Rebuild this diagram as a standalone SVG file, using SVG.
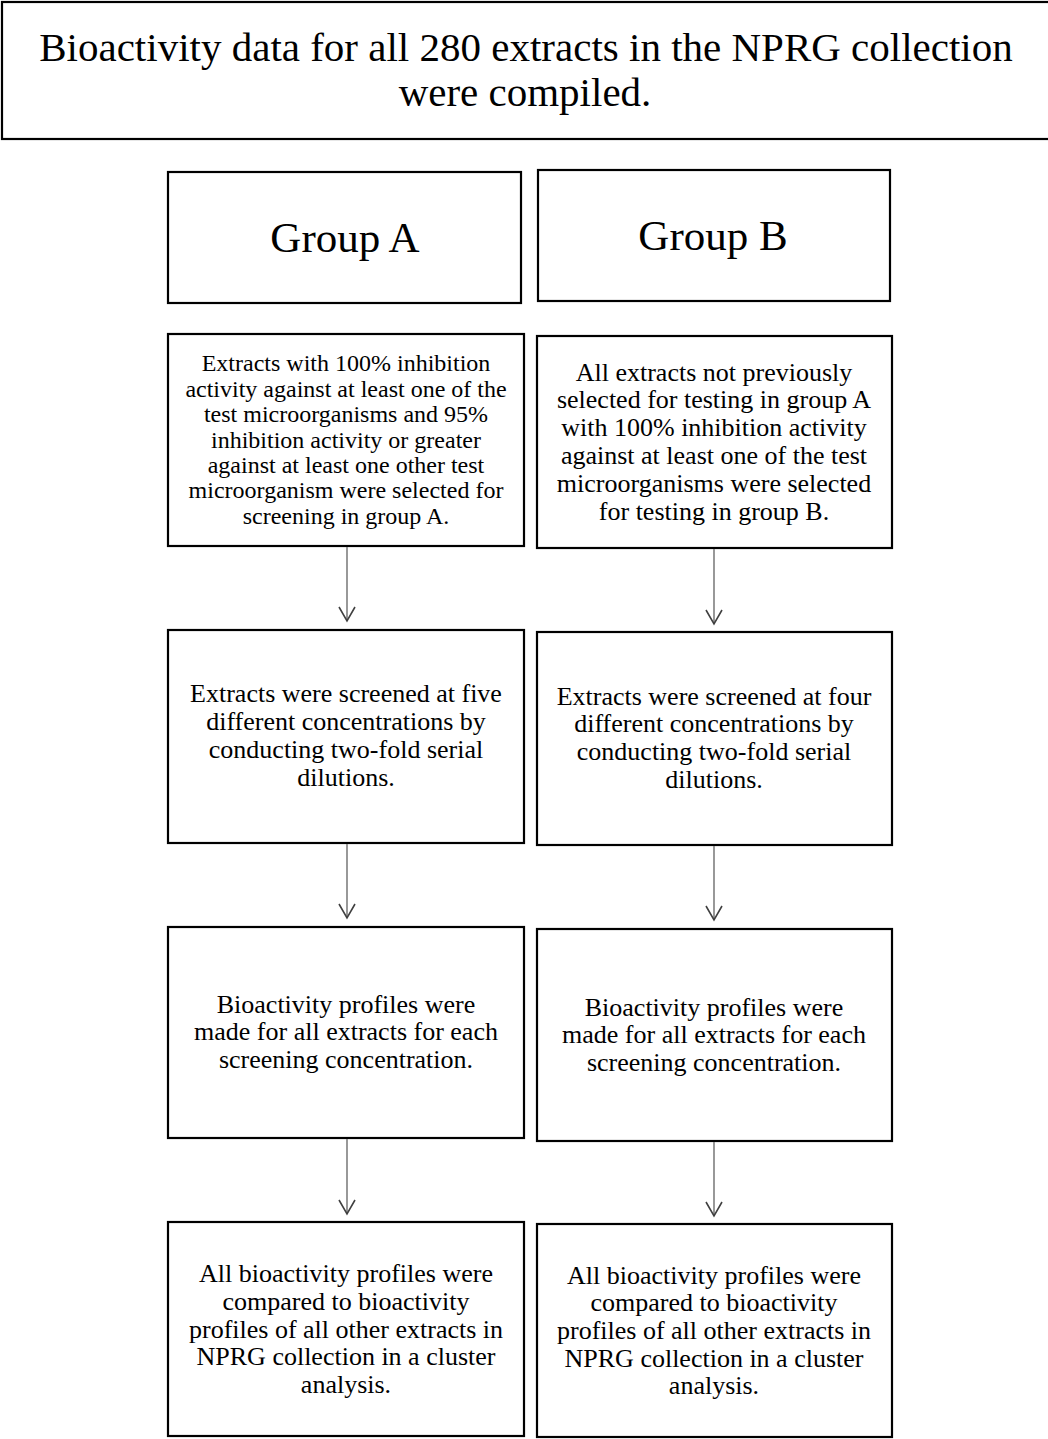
<svg xmlns="http://www.w3.org/2000/svg" width="1048" height="1439" viewBox="0 0 1048 1439">
<style>
.box{fill:#fff;stroke:#000;stroke-width:2.2}
.t{font-family:"Liberation Serif","Times New Roman",serif;fill:#000;text-anchor:middle}
.title{font-size:41px}
.grp{font-size:43px}
.s{font-size:26px}
.s1{font-size:24px}
.conn{stroke:#7f7f7f;stroke-width:1.6;fill:none}
.head{stroke:#404040;stroke-width:1.6;fill:none}
</style>
<defs>
<marker id="arr" markerWidth="20" markerHeight="20" refX="10" refY="14" markerUnits="userSpaceOnUse" orient="auto-start-reverse" viewBox="0 0 20 20">
</marker>
</defs>
<rect width="1048" height="1439" fill="#fff"/>
<g id="title">
<rect class="box" x="2" y="2" width="1060" height="137"/>
<text class="t title" x="526" y="61">Bioactivity  data for all 280 extracts in the NPRG collection</text>
<text class="t title" x="525" y="106">were compiled.</text>
</g>
<g id="groupA">
<rect class="box" x="168" y="172" width="353" height="131"/>
<text class="t grp" x="345" y="252">Group A</text>
</g>
<g id="groupB">
<rect class="box" x="538" y="170" width="352" height="131"/>
<text class="t grp" x="713" y="250">Group B</text>
</g>
<g id="a1">
<rect class="box" x="168" y="334" width="356" height="212"/>
<text class="t s1" x="346" y="371">Extracts with 100% inhibition</text>
<text class="t s1" x="346" y="397">activity against at least one of the</text>
<text class="t s1" x="346" y="422">test microorganisms and 95%</text>
<text class="t s1" x="346" y="448">inhibition activity or greater</text>
<text class="t s1" x="346" y="473">against at least one other test</text>
<text class="t s1" x="346" y="498">microorganism were selected for</text>
<text class="t s1" x="346" y="524">screening in group A.</text>
</g>
<g id="b1">
<rect class="box" x="537" y="336" width="355" height="212"/>
<text class="t s" x="714" y="381">All extracts not previously</text>
<text class="t s" x="714" y="408">selected for testing in group A</text>
<text class="t s" x="714" y="436">with 100% inhibition activity</text>
<text class="t s" x="714" y="464">against at least one of the test</text>
<text class="t s" x="714" y="492">microorganisms were selected</text>
<text class="t s" x="714" y="520">for testing in group B.</text>
</g>
<g id="a2">
<rect class="box" x="168" y="630" width="356" height="213"/>
<text class="t s" x="346" y="702">Extracts  were screened at five</text>
<text class="t s" x="346" y="730">different concentrations by</text>
<text class="t s" x="346" y="758">conducting two-fold serial</text>
<text class="t s" x="346" y="786">dilutions.</text>
</g>
<g id="b2">
<rect class="box" x="537" y="632" width="355" height="213"/>
<text class="t s" x="714" y="705">Extracts  were screened at four</text>
<text class="t s" x="714" y="732">different concentrations by</text>
<text class="t s" x="714" y="760">conducting two-fold serial</text>
<text class="t s" x="714" y="788">dilutions.</text>
</g>
<g id="a3">
<rect class="box" x="168" y="927" width="356" height="211"/>
<text class="t s" x="346" y="1013">Bioactivity  profiles were</text>
<text class="t s" x="346" y="1040">made for all extracts  for each</text>
<text class="t s" x="346" y="1068">screening concentration.</text>
</g>
<g id="b3">
<rect class="box" x="537" y="929" width="355" height="212"/>
<text class="t s" x="714" y="1016">Bioactivity  profiles were</text>
<text class="t s" x="714" y="1043">made for all extracts  for each</text>
<text class="t s" x="714" y="1071">screening concentration.</text>
</g>
<g id="a4">
<rect class="box" x="168" y="1222" width="356" height="214"/>
<text class="t s" x="346" y="1282">All bioactivity profiles were</text>
<text class="t s" x="346" y="1310">compared to bioactivity</text>
<text class="t s" x="346" y="1338">profiles of all other extracts in</text>
<text class="t s" x="346" y="1365">NPRG collection in a cluster</text>
<text class="t s" x="346" y="1393">analysis.</text>
</g>
<g id="b4">
<rect class="box" x="537" y="1224" width="355" height="213"/>
<text class="t s" x="714" y="1284">All bioactivity profiles were</text>
<text class="t s" x="714" y="1311">compared to bioactivity</text>
<text class="t s" x="714" y="1339">profiles of all other extracts in</text>
<text class="t s" x="714" y="1367">NPRG collection in a cluster</text>
<text class="t s" x="714" y="1394">analysis.</text>
</g>
<g id="connectors">
<line class="conn" x1="347" y1="547" x2="347" y2="621"/>
<polyline class="head" points="339,607 347,621 355,607"/>
<line class="conn" x1="714" y1="549" x2="714" y2="624"/>
<polyline class="head" points="706,610 714,624 722,610"/>
<line class="conn" x1="347" y1="844" x2="347" y2="918"/>
<polyline class="head" points="339,904 347,918 355,904"/>
<line class="conn" x1="714" y1="846" x2="714" y2="920"/>
<polyline class="head" points="706,906 714,920 722,906"/>
<line class="conn" x1="347" y1="1139" x2="347" y2="1214"/>
<polyline class="head" points="339,1200 347,1214 355,1200"/>
<line class="conn" x1="714" y1="1142" x2="714" y2="1216"/>
<polyline class="head" points="706,1202 714,1216 722,1202"/>
</g>
</svg>
